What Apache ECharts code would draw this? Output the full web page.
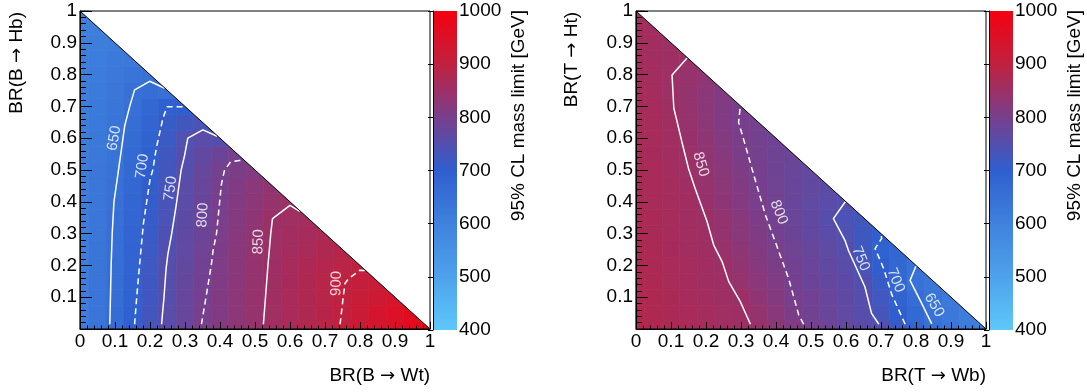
<!DOCTYPE html>
<html>
<head>
<meta charset="utf-8">
<script src="https://cdn.jsdelivr.net/npm/echarts@6/dist/echarts.min.js"></script>
<style>
  html, body { margin: 0; padding: 0; background: #fff; }
  #chart { width: 1087px; height: 392px; }
</style>
</head>
<body>
<div id="chart"></div>
<script>
// bin width of the BR scan (bins centred on 0, 0.05, ... 1)
const binStep = 0.05;

// B -> Wt / Hb limits, one row per BR(Hb) bin (0 .. 1), cells along BR(Wt)
const rowsB = [
    [615, 636, 661, 696, 729, 757, 779, 801, 815, 829, 843, 856, 867, 879, 890, 902, 920, 937, 955, 972, 990],
    [615, 635, 659, 694, 727, 756, 777, 799, 813, 828, 842, 855, 866, 877, 889, 901, 918, 935, 950, 965],
    [615, 634, 658, 692, 724, 754, 775, 796, 812, 826, 841, 854, 866, 877, 888, 900, 912, 922, 935],
    [615, 634, 657, 690, 722, 753, 773, 793, 810, 825, 840, 853, 865, 876, 887, 898, 906, 915],
    [615, 633, 656, 687, 719, 751, 770, 790, 807, 823, 839, 852, 863, 873, 882, 890, 898],
    [615, 633, 655, 685, 716, 747, 767, 787, 805, 821, 837, 851, 860, 868, 876, 884],
    [615, 632, 654, 683, 712, 743, 765, 784, 803, 819, 835, 851, 858, 864, 870],
    [615, 631, 653, 681, 709, 738, 762, 782, 801, 817, 833, 849, 855, 858],
    [615, 631, 652, 679, 706, 735, 759, 780, 799, 814, 828, 840, 848],
    [615, 630, 649, 676, 703, 731, 757, 778, 798, 813, 825, 835],
    [615, 630, 645, 672, 700, 727, 753, 774, 795, 806, 814],
    [614, 628, 643, 668, 695, 722, 750, 768, 783, 795],
    [613, 627, 640, 663, 690, 716, 745, 757, 752],
    [612, 625, 638, 658, 683, 710, 726, 735],
    [611, 623, 635, 652, 675, 695, 700],
    [610, 620, 632, 648, 658, 652],
    [609, 618, 628, 638, 645],
    [608, 615, 622, 628],
    [606, 612, 618],
    [604, 609],
    [602]
];

// T -> Wb / Ht limits, one row per BR(Ht) bin, cells along BR(Wb)
const rowsT = [
    [880, 876, 871, 867, 862, 858, 853, 845, 828, 812, 797, 785, 773, 762, 750, 717, 683, 650, 630, 615, 600],
    [880, 876, 871, 866, 861, 855, 852, 840, 822, 805, 791, 779, 767, 755, 733, 703, 672, 645, 628, 613],
    [880, 875, 870, 864, 859, 853, 850, 833, 817, 800, 790, 777, 765, 752, 723, 691, 659, 640, 625],
    [878, 873, 868, 862, 857, 852, 840, 825, 810, 796, 784, 772, 761, 748, 713, 675, 645, 632],
    [877, 872, 867, 861, 856, 850, 835, 820, 806, 793, 781, 768, 756, 733, 700, 676, 652],
    [876, 871, 865, 859, 854, 844, 829, 815, 801, 789, 777, 764, 751, 722, 690, 680],
    [875, 870, 864, 858, 852, 839, 824, 810, 796, 784, 771, 759, 745, 722, 702],
    [874, 869, 863, 857, 850, 836, 821, 805, 794, 782, 770, 754, 738, 728],
    [873, 868, 862, 856, 845, 830, 815, 800, 789, 778, 767, 757, 750],
    [872, 867, 861, 854, 842, 828, 813, 799, 789, 779, 770, 762],
    [871, 866, 860, 851, 838, 824, 809, 797, 788, 779, 771],
    [870, 865, 858, 848, 835, 819, 805, 795, 788, 782],
    [869, 864, 857, 845, 831, 816, 802, 795, 790],
    [868, 863, 856, 842, 828, 813, 799, 795],
    [867, 862, 853, 840, 826, 812, 800],
    [866, 861, 851, 838, 826, 815],
    [865, 860, 851, 841, 832],
    [864, 859, 853, 848],
    [863, 858, 852],
    [862, 857],
    [860]
];

// contour lines, [BR(W), BR(H)]
const b650 = [[0.085, 0.015], [0.086, 0.05], [0.087, 0.1], [0.089, 0.2], [0.092, 0.3], [0.097, 0.4], [0.11, 0.5], [0.128, 0.64], [0.142, 0.7], [0.156, 0.752], [0.199, 0.779], [0.242, 0.757]];
const b700 = [[0.156, 0.015], [0.162, 0.1], [0.17, 0.2], [0.181, 0.33], [0.2, 0.47], [0.208, 0.5], [0.218, 0.569], [0.237, 0.663], [0.249, 0.699], [0.294, 0.699], [0.3, 0.698]];
const b750 = [[0.233, 0.015], [0.24, 0.1], [0.246, 0.19], [0.251, 0.235], [0.262, 0.3], [0.275, 0.39], [0.289, 0.5], [0.299, 0.547], [0.308, 0.6], [0.351, 0.626], [0.392, 0.606]];
const b800 = [[0.347, 0.015], [0.36, 0.1], [0.375, 0.2], [0.38, 0.245], [0.39, 0.3], [0.404, 0.455], [0.413, 0.5], [0.43, 0.525], [0.455, 0.53], [0.468, 0.53]];
const b850 = [[0.524, 0.015], [0.53, 0.1], [0.537, 0.2], [0.545, 0.3], [0.55, 0.347], [0.6, 0.389], [0.628, 0.37]];
const b900 = [[0.743, 0.015], [0.752, 0.1], [0.757, 0.143], [0.767, 0.158], [0.8, 0.185], [0.815, 0.184]];

const t850 = [[0.327, 0.015], [0.298, 0.086], [0.265, 0.149], [0.246, 0.212], [0.222, 0.264], [0.203, 0.338], [0.193, 0.369], [0.169, 0.442], [0.15, 0.505], [0.131, 0.589], [0.108, 0.695], [0.103, 0.799], [0.146, 0.852]];
const t800 = [[0.479, 0.015], [0.465, 0.044], [0.436, 0.159], [0.398, 0.274], [0.37, 0.358], [0.331, 0.505], [0.317, 0.56], [0.303, 0.613], [0.293, 0.65], [0.298, 0.7]];
const t750 = [[0.694, 0.015], [0.673, 0.049], [0.654, 0.133], [0.607, 0.247], [0.597, 0.279], [0.564, 0.347], [0.598, 0.4]];
const t700 = [[0.769, 0.015], [0.731, 0.108], [0.707, 0.192], [0.683, 0.253], [0.702, 0.285], [0.699, 0.299]];
const t650 = [[0.845, 0.016], [0.812, 0.09], [0.783, 0.153], [0.8, 0.198]];

// contour labels: [x, y, text, angle]
const labelsB = [[0.098, 0.6, '650', 80], [0.178, 0.512, '700', 82], [0.259, 0.442, '750', 82], [0.351, 0.358, '800', 87], [0.51, 0.274, '850', 88], [0.733, 0.143, '900', 88]];
const labelsT = [[0.185, 0.518, '850', -74], [0.408, 0.367, '800', -68], [0.642, 0.221, '750', -67], [0.742, 0.153, '700', -68], [0.852, 0.075, '650', -60]];

const colourbarTicks = [400, 1000, 100];
const palette = ['#5ec8fa', '#4ea2ec', '#3f82dd', '#2f5fcf', '#783f8c', '#c0213f', '#f5000f'];
const fontFamily = 'Liberation Sans';

function toCells(rows) {
    const cells = [];
    rows.forEach((row, j) => {
        row.forEach((v, i) => {
            cells.push([+(i * binStep).toFixed(2), +(j * binStep).toFixed(2), v]);
        });
    });
    return cells;
}

const panels = [
    {
        plotLeft: 80, cbLeft: 433, textRight: 418, yTitleX: 17, cbTitleX: 519,
        xTitle: 'BR(B {ar|\u2192} Wt)', yTitle: 'BR(B {ar|\u2192} Hb)',
        cells: toCells(rowsB),
        contours: [[b650, false], [b700, true], [b750, false], [b800, true], [b850, false], [b900, true]],
        labels: labelsB
    },
    {
        plotLeft: 636, cbLeft: 989, textRight: 972, yTitleX: 572, cbTitleX: 1075,
        xTitle: 'BR(T {ar|\u2192} Wb)', yTitle: 'BR(T {ar|\u2192} Ht)',
        cells: toCells(rowsT),
        contours: [[t850, false], [t800, true], [t750, false], [t700, true], [t650, false]],
        labels: labelsT
    }
];

const plotTop = 11, plotHeight = 318, plotWidth = 350;

const grid = [], xAxis = [], yAxis = [], series = [], graphic = [];
const heatIndices = [];

function renderCell(params, api) {
    const x = api.value(0), y = api.value(1);
    const p0 = api.coord([x - binStep / 2, y + binStep / 2]);
    const p1 = api.coord([x + binStep / 2, y - binStep / 2]);
    const cs = params.coordSys;
    const shape = echarts.graphic.clipRectByRect(
        { x: p0[0], y: p0[1], width: p1[0] - p0[0], height: p1[1] - p0[1] },
        { x: cs.x, y: cs.y, width: cs.width, height: cs.height }
    );
    if (!shape) return null;
    const c = api.visual('color');
    return { type: 'rect', shape: shape, style: { fill: c, stroke: c, lineWidth: 0.8 } };
}

function renderUpperTriangle(params, api) {
    return {
        type: 'polygon',
        shape: { points: [api.coord([0, 1]), api.coord([1, 1]), api.coord([1, 0])] },
        style: { fill: '#fff' }
    };
}

const arrowRich = { ar: { fontFamily: 'DejaVu Sans', fontSize: 18 } };

panels.forEach((p, k) => {
    const gPlot = 2 * k, gBar = 2 * k + 1;

    grid.push({ left: p.plotLeft, top: plotTop, width: plotWidth, height: plotHeight,
        show: true, borderColor: '#000', borderWidth: 1, backgroundColor: 'transparent', z: 10, outerBoundsMode: 'none' });
    grid.push({ left: p.cbLeft, top: plotTop, width: 24, height: plotHeight + 1, outerBoundsMode: 'none' });

    xAxis.push({
        gridIndex: gPlot, type: 'value', min: 0, max: 1, interval: 0.1, z: 10,
        axisLine: { show: true, onZero: false, lineStyle: { color: '#000', width: 1 } },
        axisTick: { show: true, inside: true, length: 7, lineStyle: { color: '#000' } },
        minorTick: { show: true, splitNumber: 5, length: 3.5, lineStyle: { color: '#000' } },
        splitLine: { show: false },
        axisLabel: { color: '#000', fontSize: 19, fontFamily: fontFamily, margin: 3, showMinLabel: true, showMaxLabel: true }
    });
    xAxis.push({ gridIndex: gBar, type: 'value', min: 0, max: 1, show: false });

    yAxis.push({
        gridIndex: gPlot, type: 'value', min: 0, max: 1, interval: 0.1, z: 10,
        axisLine: { show: true, onZero: false, lineStyle: { color: '#000', width: 1 } },
        axisTick: { show: true, inside: true, length: 12, lineStyle: { color: '#000' } },
        minorTick: { show: true, splitNumber: 5, length: 6, lineStyle: { color: '#000' } },
        splitLine: { show: false },
        axisLabel: { color: '#000', fontSize: 19, fontFamily: fontFamily, margin: 3, showMaxLabel: true,
            formatter: v => (v === 0 ? '' : String(+v.toFixed(1))) }
    });
    yAxis.push({
        gridIndex: gBar, type: 'value', position: 'right',
        min: colourbarTicks[0], max: colourbarTicks[1], interval: colourbarTicks[2], z: 10,
        axisLine: { show: true, lineStyle: { color: '#000', width: 1 } },
        axisTick: { show: true, inside: true, length: 5, lineStyle: { color: '#000' } },
        splitLine: { show: false },
        axisLabel: { color: '#000', fontSize: 19, fontFamily: fontFamily, margin: 2, showMinLabel: true, showMaxLabel: true,
            formatter: v => String(v) }
    });

    heatIndices.push(series.length);
    series.push({
        type: 'custom', xAxisIndex: gPlot, yAxisIndex: gPlot, z: 1, silent: true,
        data: p.cells, encode: { x: 0, y: 1 }, renderItem: renderCell
    });

    p.contours.forEach(([pts, dashed]) => {
        series.push({
            type: 'line', xAxisIndex: gPlot, yAxisIndex: gPlot, z: 2, silent: true,
            data: pts, symbol: 'none', showSymbol: false, smooth: false,
            lineStyle: { color: '#fff', width: 1.5, type: dashed ? [6, 4] : 'solid' }
        });
    });

    series.push({
        type: 'scatter', xAxisIndex: gPlot, yAxisIndex: gPlot, z: 3, silent: true,
        symbolSize: 1, itemStyle: { color: 'rgba(0,0,0,0)' },
        data: p.labels.map(l => ({ value: [l[0], l[1]], name: l[2], label: { rotate: l[3] } })),
        label: { show: true, position: 'inside', formatter: '{b}', color: '#fff', fontSize: 15, fontFamily: fontFamily }
    });

    series.push({
        type: 'custom', xAxisIndex: gPlot, yAxisIndex: gPlot, z: 4, silent: true,
        data: [[1, 1]], encode: { x: 0, y: 1 }, renderItem: renderUpperTriangle
    });
    series.push({
        type: 'line', xAxisIndex: gPlot, yAxisIndex: gPlot, z: 5, silent: true,
        data: [[0, 1], [1, 0]], symbol: 'none', lineStyle: { color: '#000', width: 1 }
    });

    // colour scale bar
    graphic.push({
        type: 'rect', z: -1, silent: true,
        shape: { x: p.cbLeft, y: plotTop, width: 24, height: plotHeight + 1 },
        style: { fill: new echarts.graphic.LinearGradient(0, 0, 0, 1,
            palette.slice().reverse().map((c, i) => ({ offset: i / (palette.length - 1), color: c }))) }
    });

    const base = { fill: '#000', fontFamily: fontFamily, align: 'right', verticalAlign: 'middle' };
    graphic.push({ type: 'text', x: p.textRight, y: 29, silent: true,
        style: Object.assign({}, base, { text: '{a|ATLAS} Preliminary', fontSize: 19,
            rich: { a: { fontStyle: 'italic', fontWeight: 'bold', fontSize: 19, fontFamily: fontFamily } } }) });
    graphic.push({ type: 'text', x: p.textRight, y: 52, silent: true,
        style: Object.assign({}, base, { text: '\u221As = 13 TeV, 3.2 fb{s|-1}', fontSize: 18,
            rich: { s: { fontSize: 11, fontFamily: fontFamily, verticalAlign: 'top', padding: [0, 0, 8, 0] } } }) });
    graphic.push({ type: 'text', x: p.textRight, y: 79, silent: true,
        style: Object.assign({}, base, { text: 'SS dilepton / trilepton + b-jets', fontSize: 16.7 }) });
    graphic.push({ type: 'text', x: p.textRight, y: 117.5, silent: true,
        style: Object.assign({}, base, { text: 'Observed limit', fontSize: 16.7 }) });

    graphic.push({ type: 'text', x: p.plotLeft + plotWidth, y: 376, silent: true,
        style: Object.assign({}, base, { text: p.xTitle, fontSize: 19, rich: arrowRich }) });
    graphic.push({ type: 'text', x: p.yTitleX, y: 12, rotation: Math.PI / 2, silent: true,
        style: Object.assign({}, base, { text: p.yTitle, fontSize: 19, rich: arrowRich }) });
    graphic.push({ type: 'text', x: p.cbTitleX, y: 10, rotation: Math.PI / 2, silent: true,
        style: Object.assign({}, base, { text: '95% CL mass limit [GeV]', fontSize: 19 }) });
});

const chart = echarts.init(document.getElementById('chart'), null, { renderer: 'canvas' });
chart.setOption({
    animation: false,
    backgroundColor: '#fff',
    grid: grid,
    xAxis: xAxis,
    yAxis: yAxis,
    visualMap: [{
        type: 'continuous', show: false, min: colourbarTicks[0], max: colourbarTicks[1],
        dimension: 2, seriesIndex: heatIndices, inRange: { color: palette }
    }],
    graphic: graphic,
    series: series
});
</script>
</body>
</html>
